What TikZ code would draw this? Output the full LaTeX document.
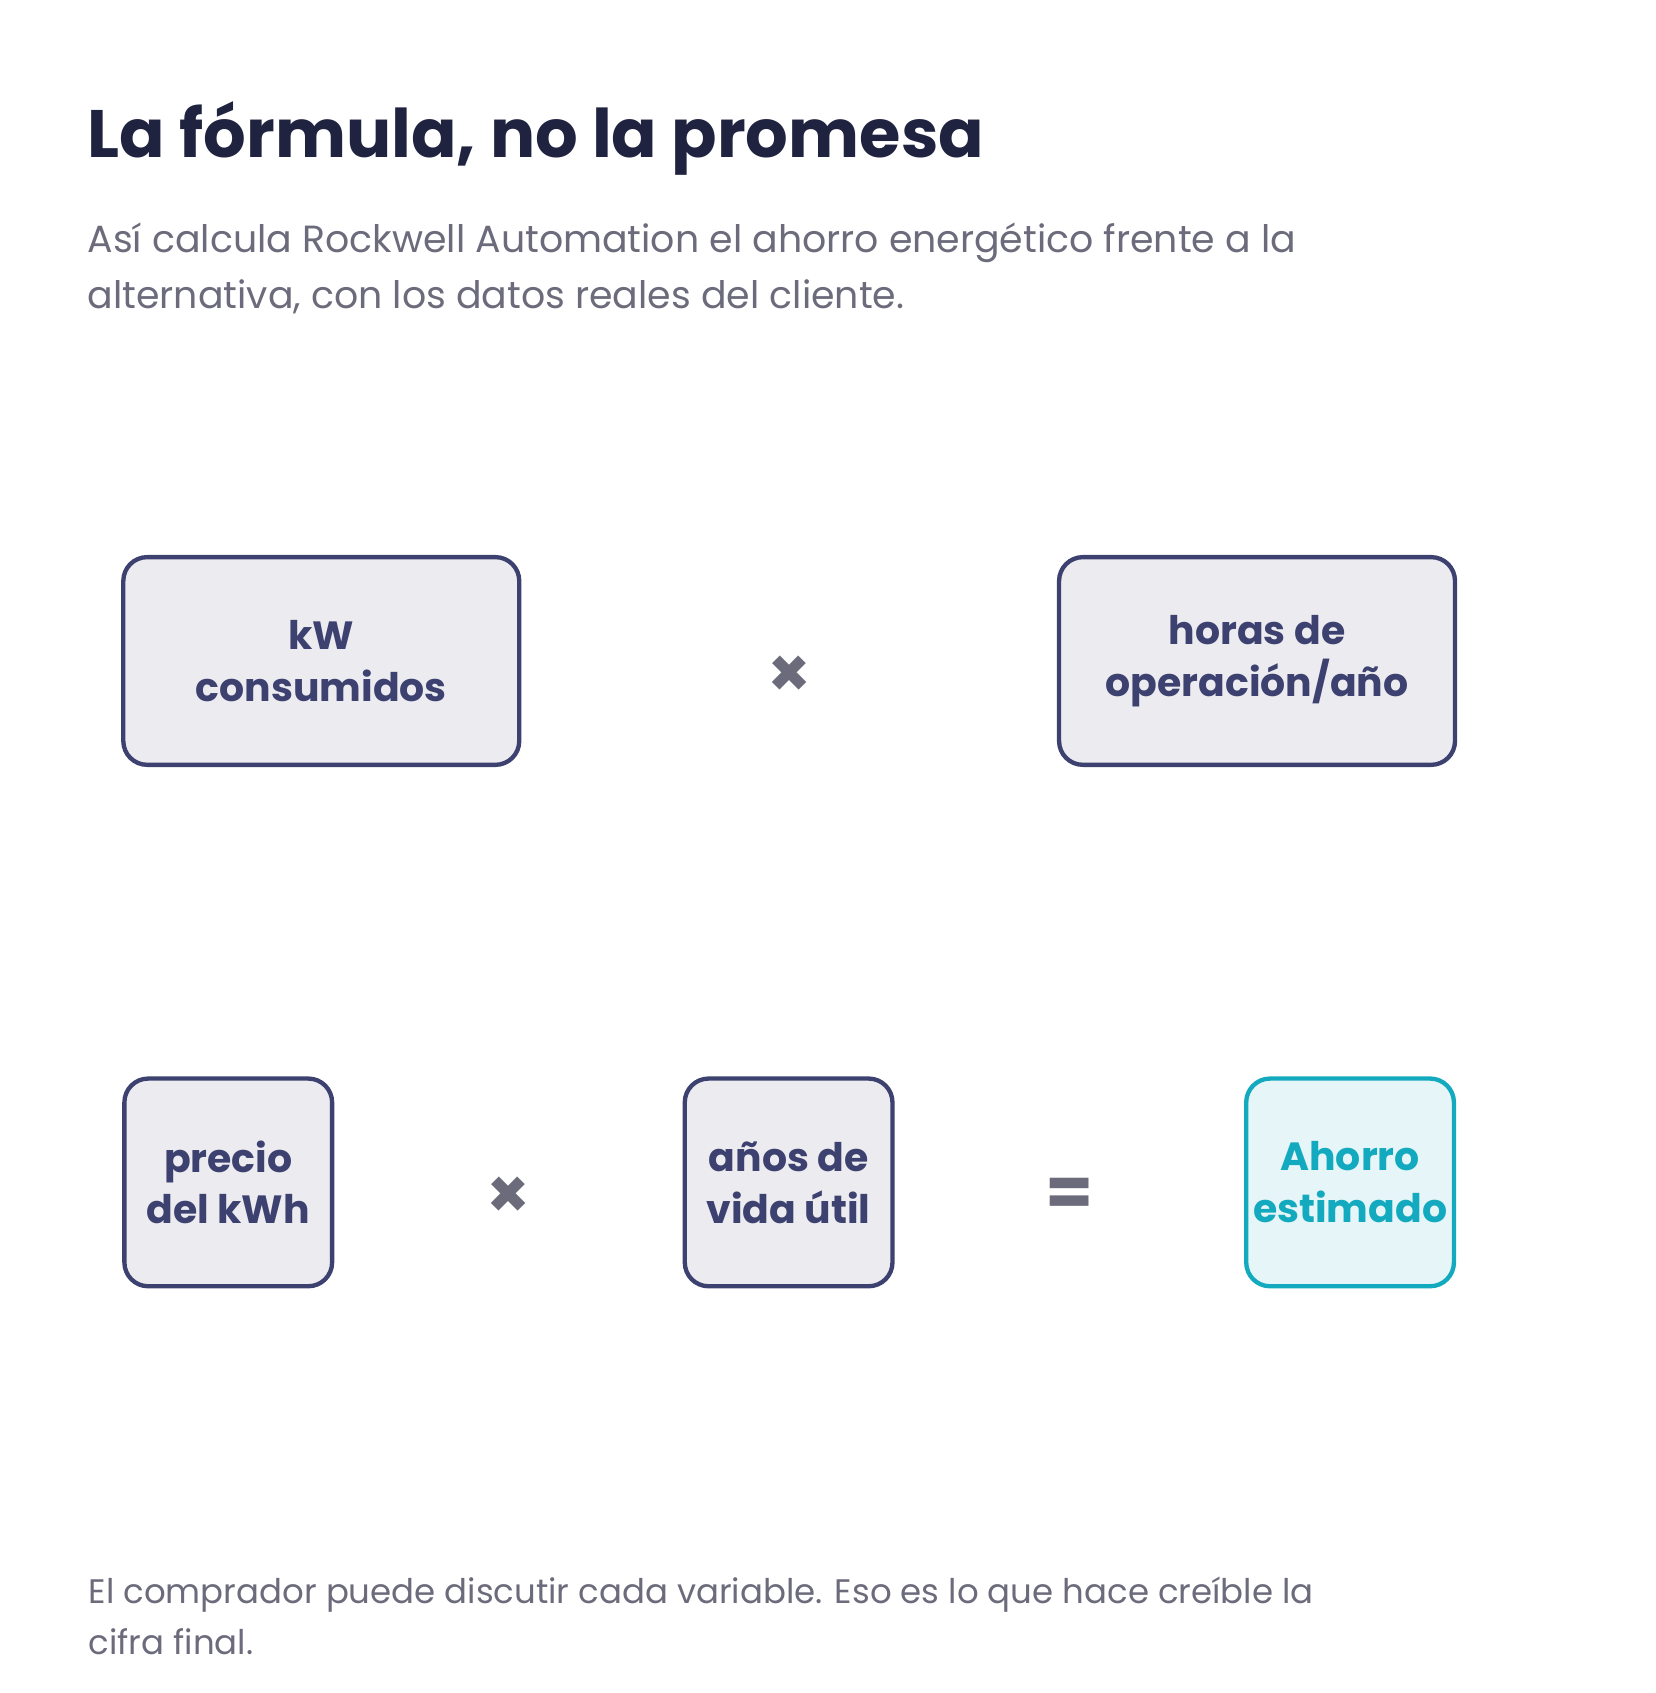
\documentclass[tikz,border=0pt]{standalone}
\usepackage{fontspec}
\setmainfont{Poppins}
\usetikzlibrary{positioning}
\definecolor{navy}{HTML}{1F2340}
\definecolor{ink}{HTML}{3D4170}
\definecolor{muted}{HTML}{6B6B7B}
\definecolor{boxfill}{HTML}{ECEBF0}
\definecolor{teal}{HTML}{13AABF}
\definecolor{tealfill}{HTML}{E6F5F8}
\tikzset{
  term/.style={draw=ink, fill=boxfill, line width=2pt, rounded corners=11pt, align=center,
    text=ink, font=\fontsize{18.2}{24}\selectfont\bfseries, inner sep=0pt},
  result/.style={term, draw=teal, fill=tealfill, text=teal},
  op/.style={text=muted, font=\fontsize{32}{32}\selectfont\bfseries},
  note/.style={anchor=base west, text=muted, font=\fontsize{17.5}{26}\selectfont}
}
\begin{document}
\begin{tikzpicture}[x=0.5pt,y=-0.5pt]
        \useasboundingbox (0,0) rectangle (1530,1565);
        \node[anchor=base west, text=navy, font=\fontsize{31}{36}\selectfont\bfseries] (title) at (74,146) {La fórmula, no la promesa};
        \node[note] (sub1) at (74,233) {Así calcula Rockwell Automation el ahorro energético frente a la};
        \node[note] (sub2) at (74,285) {alternativa, con los datos reales del cliente.};

        % primera fila
        \node[term, minimum width=183pt, minimum height=96pt] (kw) at (297,611) {kW\\consumidos};
        \node[op] (times1) at (730,626) {×};
        \node[term, minimum width=183pt, minimum height=96pt] (horas) at (1162,611) {horas de\\operación/año};

        % segunda fila
        \node[term, minimum width=96pt, minimum height=96pt] (precio) at (211,1093) {precio\\del kWh};
        \node[op] (times2) at (470,1107) {×};
        \node[term, minimum width=96pt, minimum height=96pt] (anos) at (729,1093) {años de\\vida útil};
        \node[op] (equals) at (989,1107) {=};
        \node[result, minimum width=96pt, minimum height=96pt] (ahorro) at (1248,1093) {Ahorro\\estimado};

        \node[note, font=\fontsize{15.7}{24}\selectfont] (foot1) at (75,1482) {El comprador puede discutir cada variable. Eso es lo que hace creíble la};
        \node[note, font=\fontsize{15.7}{24}\selectfont] (foot2) at (75,1529) {cifra final.};
\end{tikzpicture}
\end{document}
